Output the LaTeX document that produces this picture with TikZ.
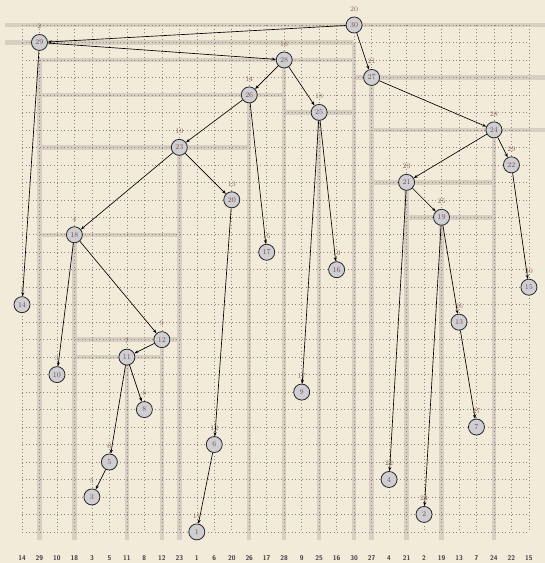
\documentclass[tikz,border=0pt]{standalone}
\usetikzlibrary{arrows.meta}
\definecolor{bg}{HTML}{F3EBDA}
\definecolor{band}{HTML}{D8CFC2}
\definecolor{dotc}{HTML}{8A8580}
\definecolor{nodefill}{HTML}{CFCFD3}
\definecolor{numc}{HTML}{7A5050}
\definecolor{labc}{HTML}{8C605A}
\definecolor{axc}{HTML}{3A3A3A}
\begin{document}
\begin{tikzpicture}[x=1pt,y=-1pt,
  vtx/.style={circle,draw=black!85,line width=0.8pt,fill=nodefill,minimum size=16pt,inner sep=0pt,text=numc,font=\fontsize{7.5}{8}\selectfont},
  tag/.style={text=labc,font=\fontsize{7}{8}\selectfont,inner sep=0pt},
  edge/.style={draw=black,line width=0.65pt,-{Stealth[length=4pt,width=3pt]}},
  bandline/.style={draw=band,line width=4.5pt},
  gridline/.style={draw=dotc,line width=0.6pt,dash pattern=on 0.7pt off 2.8pt},
  axis/.style={text=axc,inner sep=0pt,font=\sffamily\bfseries\fontsize{6.8}{7}\selectfont}
]
\fill[bg] (0,0) rectangle (545,563);
\useasboundingbox (0,0) rectangle (545,563);
% horizontal bands: value / x-left / x-right (column indices; 0 = left edge, 31 = right edge)
\foreach \v/\a/\b in {30/0/31, 29/0/20, 28/2/20, 27/20/31, 26/2/16, 25/16/20, 24/21/31, 23/2/14, 21/21/28, 19/23/28, 18/2/10, 12/4/10, 11/4/9}{
  \pgfmathsetmacro\yy{25+(30-\v)*17.48}
  \pgfmathsetmacro\xa{\a==0 ? 5 : 22+(\a-1)*17.48}
  \pgfmathsetmacro\xb{\b==31 ? 545 : 22+(\b-1)*17.48}
  \draw[bandline] (\xa,\yy) -- (\xb,\yy);
}
% vertical bands: column / starting row value
\foreach \c/\r in {20/29, 2/28, 16/28, 21/27, 14/26, 18/25, 28/24, 10/23, 23/21, 25/19, 4/18, 9/12, 7/11}{
  \pgfmathsetmacro\xx{22+(\c-1)*17.48}
  \pgfmathsetmacro\yy{25+(30-\r)*17.48}
  \draw[bandline] (\xx,\yy) -- (\xx,540);
}
% dotted grid
\foreach \i in {1,...,30}{
  \pgfmathsetmacro\xx{22+(\i-1)*17.48}
  \pgfmathsetmacro\yy{25+(\i-1)*17.48}
  \draw[gridline] (\xx,25) -- (\xx,532);
  \draw[gridline] (22,\yy) -- (529,\yy);
}
% nodes: value / column
\foreach \v/\c in {14/1, 29/2, 10/3, 18/4, 3/5, 5/6, 11/7, 8/8, 12/9, 23/10, 1/11, 6/12, 20/13, 26/14, 17/15, 28/16, 9/17, 25/18, 16/19, 30/20, 27/21, 4/22, 21/23, 2/24, 19/25, 13/26, 7/27, 24/28, 22/29, 15/30}{
  \pgfmathsetmacro\xx{22+(\c-1)*17.48}
  \pgfmathsetmacro\yy{25+(30-\v)*17.48}
  \pgfmathsetmacro\ty{\yy-16}
  \node[vtx] (n\v) at (\xx,\yy) {\v};
  \node[tag] (t\v) at (\xx,\ty) {\c};
  \node[axis] (a\c) at (\xx,558) {\v};
}
% tree edges
\foreach \p/\q in {30/29, 30/27, 29/14, 29/28, 28/26, 28/25, 26/23, 26/17, 25/9, 25/16, 23/18, 23/20, 18/10, 18/12, 12/11, 11/5, 11/8, 5/3, 20/6, 6/1, 27/24, 24/21, 24/22, 22/15, 21/4, 21/19, 19/2, 19/13, 13/7}{
  \draw[edge] (n\p) -- (n\q);
}
\end{tikzpicture}
\end{document}
